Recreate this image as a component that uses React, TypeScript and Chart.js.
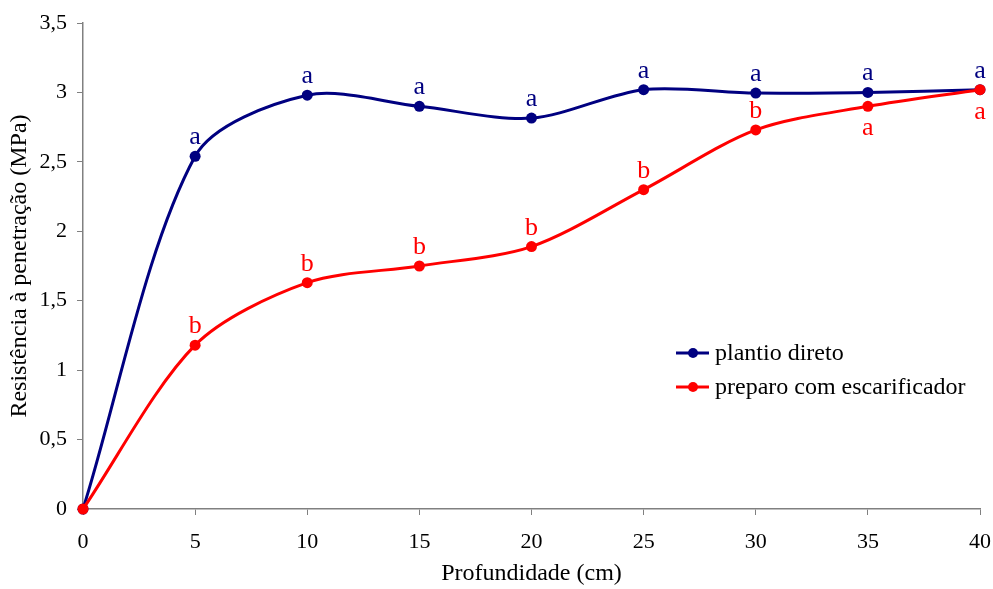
import React, { useEffect, useRef } from "react";
import { Chart, registerables } from "chart.js";

Chart.register(...registerables);

const depths = [0, 5, 10, 15, 20, 25, 30, 35, 40];
const plantioDireto = [0, 2.54, 2.98, 2.9, 2.815, 3.02, 2.995, 3.0, 3.02];
const escarificador = [0, 1.18, 1.63, 1.75, 1.89, 2.3, 2.73, 2.9, 3.02];
const plantioLetters = ["", "a", "a", "a", "a", "a", "a", "a", "a"];
const escarLetters = ["", "b", "b", "b", "b", "b", "b", "a", "a"];
const escarLetterBelow = [false, false, false, false, false, false, false, true, true];
const seriesNames = ["plantio direto", "preparo com escarificador"];
const xTitle = "Profundidade (cm)";
const yTitle = "Resistência à penetração (MPa)";

const BLUE = "#000080";
const RED = "#FF0000";
const FONT = "'Liberation Serif', 'Times New Roman', serif";

const letterPlugin = {
  id: "letters",
  afterDatasetsDraw(chart: any) {
    const ctx = chart.ctx;
    ctx.save();
    ctx.font = `26px ${FONT}`;
    ctx.textAlign = "center";
    ctx.textBaseline = "alphabetic";
    chart.data.datasets.forEach((ds: any, di: number) => {
      const meta = chart.getDatasetMeta(di);
      const letters = di === 0 ? plantioLetters : escarLetters;
      meta.data.forEach((pt: any, i: number) => {
        const t = letters[i];
        if (!t) return;
        ctx.fillStyle = ds.borderColor;
        const below = di === 1 && escarLetterBelow[i];
        ctx.fillText(t, pt.x, below ? pt.y + 29 : pt.y - 12);
      });
    });
    ctx.restore();
  },
};

const legendPlugin = {
  id: "customLegend",
  afterDraw(chart: any) {
    const ctx = chart.ctx;
    const area = chart.chartArea;
    ctx.save();
    const x0 = area.left + 593;
    const y0 = area.top + 330;
    const colors = [BLUE, RED];
    seriesNames.forEach((name, i) => {
      const y = y0 + i * 34;
      ctx.strokeStyle = colors[i];
      ctx.lineWidth = 3;
      ctx.beginPath();
      ctx.moveTo(x0, y);
      ctx.lineTo(x0 + 33, y);
      ctx.stroke();
      ctx.fillStyle = colors[i];
      ctx.beginPath();
      ctx.arc(x0 + 17, y, 5, 0, Math.PI * 2);
      ctx.fill();
      ctx.fillStyle = "#000";
      ctx.font = `24px ${FONT}`;
      ctx.textAlign = "left";
      ctx.textBaseline = "middle";
      ctx.fillText(name, x0 + 39, y + 1);
    });
    ctx.restore();
  },
};

export default function App() {
  const ref = useRef<HTMLCanvasElement | null>(null);
  useEffect(() => {
    if (!ref.current) return;
    const mk = (vals: number[]) => depths.map((d, i) => ({ x: d, y: vals[i] }));
    const chart = new Chart(ref.current, {
      type: "line",
      data: {
        datasets: [
          {
            label: seriesNames[0],
            data: mk(plantioDireto),
            borderColor: BLUE,
            backgroundColor: BLUE,
            borderWidth: 3,
            pointRadius: 5.5,
            pointBorderWidth: 0,
            tension: 0.3,
            clip: false,
            order: 1,
          },
          {
            label: seriesNames[1],
            data: mk(escarificador),
            borderColor: RED,
            backgroundColor: RED,
            borderWidth: 3,
            pointRadius: 5.5,
            pointBorderWidth: 0,
            tension: 0.3,
            clip: false,
            order: 0,
          },
        ],
      },
      options: {
        animation: false,
        responsive: false,
        layout: { padding: { top: 23, right: 13, left: 0, bottom: 0 } },
        plugins: { legend: { display: false }, tooltip: { enabled: false } },
        scales: {
          x: {
            type: "linear",
            min: 0,
            max: 40,
            ticks: {
              stepSize: 5,
              color: "#000",
              font: { family: FONT, size: 22 },
              padding: 14,
              maxRotation: 0,
            },
            grid: { drawOnChartArea: false, tickLength: 6, color: "#808080" },
            border: { color: "#808080", width: 1.5 },
            title: {
              display: true,
              text: xTitle,
              color: "#000",
              font: { family: FONT, size: 24 },
              padding: { top: 0, bottom: 1 },
            },
            afterFit: (s: any) => {
              s.height = 80;
              s.paddingRight = 0;
              s.paddingLeft = 0;
            },
          },
          y: {
            min: 0,
            max: 3.5,
            ticks: {
              stepSize: 0.5,
              color: "#000",
              font: { family: FONT, size: 22 },
              padding: 10,
              callback: (v: any) => String(v).replace(".", ","),
            },
            grid: { drawOnChartArea: false, tickLength: 6, color: "#808080" },
            border: { color: "#808080", width: 1.5 },
            title: {
              display: true,
              text: yTitle,
              color: "#000",
              font: { family: FONT, size: 24 },
              padding: { top: 5, bottom: 0 },
            },
            afterFit: (s: any) => {
              s.width = 83;
              s.paddingTop = 0;
              s.paddingBottom = 0;
            },
          },
        },
      },
      plugins: [letterPlugin, legendPlugin],
    });
    return () => chart.destroy();
  }, []);
  return (
    <div style={{ position: "fixed", left: 0, top: 0, width: 993, height: 589, background: "#fff" }}>
      <canvas ref={ref} width={993} height={589} />
    </div>
  );
}
